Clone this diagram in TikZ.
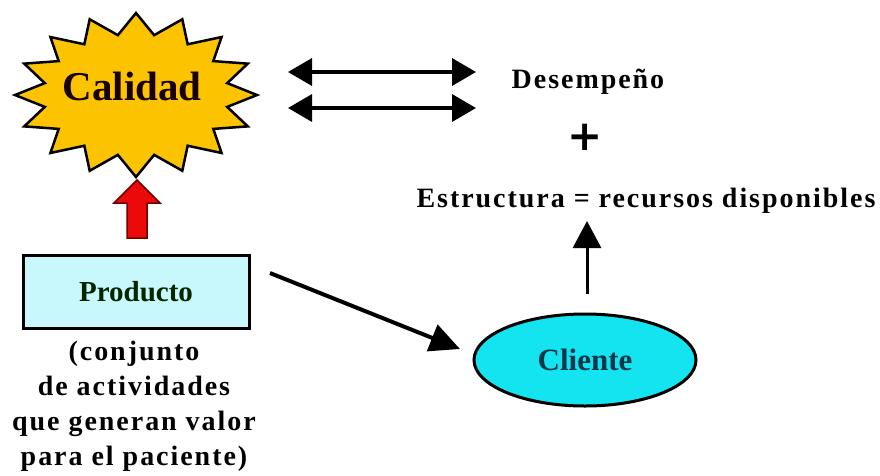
\documentclass[tikz,border=0pt]{standalone}
\usepackage{fontspec}
\setmainfont{Liberation Serif}
\newfontfamily\spaced{Liberation Serif}[LetterSpace=7]
\newfontfamily\plusfont{DejaVu Sans}
\usetikzlibrary{arrows.meta,shapes.geometric}
\definecolor{gold}{RGB}{252,196,0}
\definecolor{paleCyan}{RGB}{200,248,252}
\definecolor{brightCyan}{RGB}{20,228,240}
\definecolor{darkTeal}{RGB}{0,55,75}
\definecolor{darkRed}{RGB}{110,0,0}
\definecolor{arrowRed}{RGB}{235,10,10}
\tikzset{
  lbl/.style={inner sep=0pt, anchor=base, font=\spaced\bfseries\fontsize{28}{33}\selectfont},
  dbl/.style={line width=3.5pt, {Triangle[length=24pt,width=27pt]}-{Triangle[length=24pt,width=27pt]}},
  conn/.style={line width=4pt, -{Triangle[length=30pt,width=28pt]}},
  boxstyle/.style={draw, line width=3pt, fill=paleCyan, minimum width=226pt, minimum height=73pt, inner sep=0pt,
    font=\bfseries\fontsize{29}{33}\selectfont, text=black!85!green},
  ellstyle/.style={ellipse, draw, line width=3pt, fill=brightCyan, minimum width=222pt, minimum height=92pt, inner sep=0pt,
    font=\bfseries\fontsize{31}{33}\selectfont, text=darkTeal},
  starstyle/.style={draw, line width=2.5pt, fill=gold, line join=miter},
}
\begin{document}
\begin{tikzpicture}[x=1pt,y=-1pt]
\useasboundingbox (0,0) rectangle (880,475);
% star
\coordinate (sc) at (136,95);
\draw[starstyle, shift={(sc)}] (0:121pt and 82pt)
  \foreach \i in {0,...,15} { -- ({\i*22.5+11.25}:93pt and 61pt) -- ({(\i+1)*22.5}:121pt and 82pt) } -- cycle;
\node[inner sep=0pt, anchor=base, font=\bfseries\fontsize{41}{44}\selectfont, text=black!90!red] (cal) at (132,100) {Calidad};
% double arrows
\coordinate (a1l) at (288,72);
\coordinate (a1r) at (476,72);
\coordinate (a2l) at (288,108);
\coordinate (a2r) at (476,108);
\draw[dbl] (a1l) -- (a1r);
\draw[dbl] (a2l) -- (a2r);
% right texts
\node[lbl] (des) at (588,88) {Desempeño};
\node[inner sep=0pt, font=\plusfont\bfseries\fontsize{42}{44}\selectfont] (plus) at (585,137) {+};
\node[lbl] (est) at (646,207) {Estructura = recursos disponibles};
% producto
\node[boxstyle] (prod) at (136,292) {Producto};
\node[inner sep=0pt, align=center, font=\spaced\bfseries\fontsize{28}{35}\selectfont] (desc) at (134,406)
  {(conjunto\\de actividades\\que generan valor\\para el paciente)};
% red arrow
\draw[darkRed, line width=1.5pt, fill=arrowRed, line join=miter]
  (127,238) -- (147,238) -- (147,203) -- (160,203) -- (137,180) -- (114,203) -- (127,203) -- cycle;
% cliente
\node[ellstyle] (cli) at (585,360) {Cliente};
% connectors
\coordinate (p1) at (270,273);
\coordinate (p2) at (460,349);
\draw[conn] (p1) -- (p2);
\coordinate (u1) at (587,294);
\coordinate (u2) at (587,221);
\draw[line width=3pt, -{Triangle[length=27pt,width=28pt]}] (u1) -- (u2);
\end{tikzpicture}
\end{document}
